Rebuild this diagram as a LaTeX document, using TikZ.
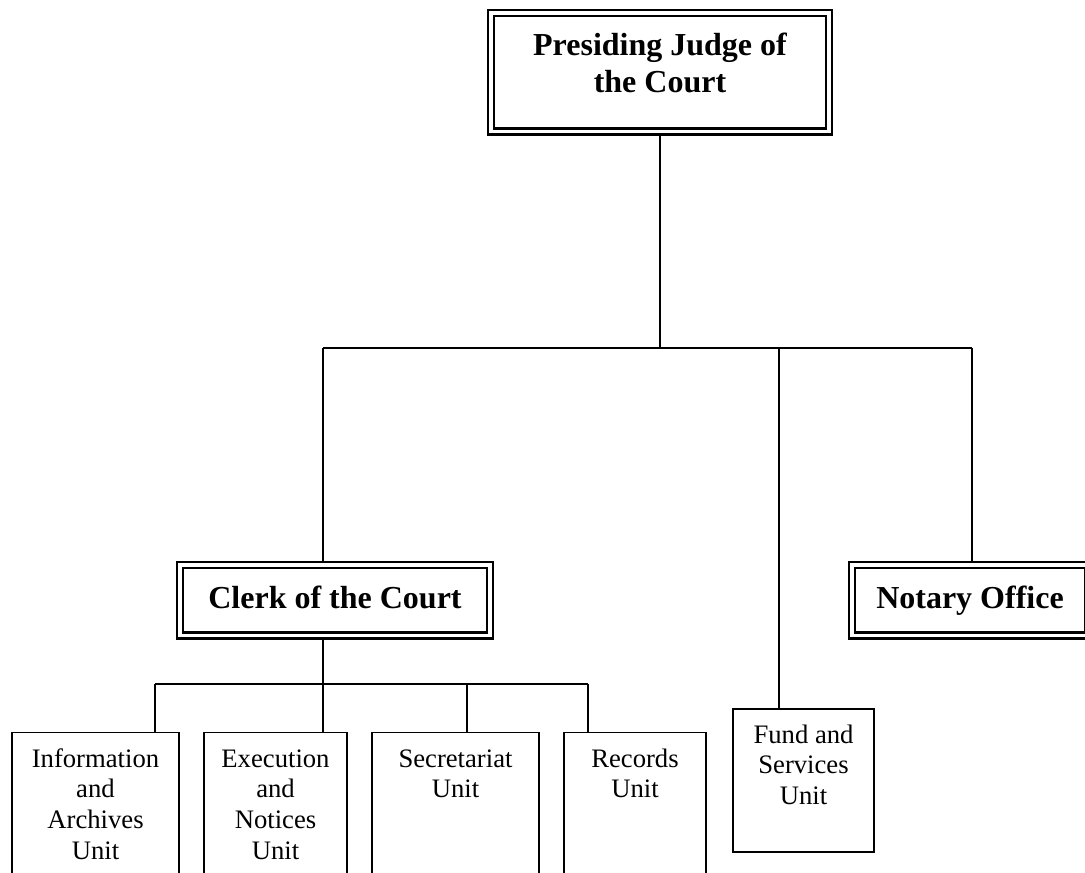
\documentclass[tikz,border=0pt]{standalone}
\usepackage{fontspec}
\setmainfont{Liberation Serif}
\newcommand\firstln[1]{\rule{0pt}{#1}}
\begin{document}
\begin{tikzpicture}[x=0.75pt,y=-0.75pt,
  dbox/.style={draw=black,double=white,line width=1.8pt,double distance=2.5pt,
    rectangle,inner sep=0pt,outer sep=3pt},
  sbox/.style={draw=black,line width=1.2pt,rectangle,inner sep=0pt},
  boldtxt/.style={font=\bfseries\fontsize{24}{27.75}\selectfont,align=center,inner sep=0pt},
  unittxt/.style={font=\fontsize{20}{23}\selectfont,align=center,inner sep=0pt,anchor=north},
  link/.style={draw=black,line width=1pt}]
\useasboundingbox (0,0) rectangle (1085,872);
\clip (0,0) rectangle (1085,872);
% main boxes
\node[dbox,minimum width=253.5pt,minimum height=88.875pt] (judge) at (660,72.25) {};
\node[dbox,minimum width=232.5pt,minimum height=52.875pt] (clerk) at (335,600.25) {};
\node[dbox,minimum width=177pt,minimum height=52.875pt] (notary) at (970,600.25) {};
% unit boxes
\node[sbox,minimum width=125.25pt,minimum height=125.6pt] (info) at (95.5,816.25) {};
\node[sbox,minimum width=107.25pt,minimum height=125.6pt] (exec) at (275.5,816.25) {};
\node[sbox,minimum width=125.25pt,minimum height=125.6pt] (secr) at (455.5,816.25) {};
\node[sbox,minimum width=106.5pt,minimum height=125.6pt] (rec) at (635,816.25) {};
\node[sbox,minimum width=105.75pt,minimum height=107.25pt] (fund) at (803.5,780.5) {};
% texts
\node[boldtxt,anchor=north] (tjudge) at (660,28.33) {\firstln{20pt}Presiding Judge of\\the Court};
\node[boldtxt,anchor=base] (tclerk) at (335,608) {Clerk of the Court};
\node[boldtxt,anchor=base] (tnotary) at (970,608) {Notary Office};
\node[unittxt] (tinfo) at (95.5,744.33) {\firstln{17pt}Information\\and\\Archives\\Unit};
\node[unittxt] (texec) at (275.5,744.33) {\firstln{17pt}Execution\\and\\Notices\\Unit};
\node[unittxt] (tsecr) at (455.5,744.33) {\firstln{17pt}Secretariat\\Unit};
\node[unittxt] (trec) at (635,744.33) {\firstln{17pt}Records\\Unit};
\node[unittxt] (tfund) at (803.5,720.33) {\firstln{17pt}Fund and\\Services\\Unit};
% connectors
\coordinate (hL) at (323,348);
\coordinate (hJ) at (660,348);
\coordinate (hF) at (779,348);
\coordinate (hR) at (972,348);
\draw[link] (judge.south) -- (hJ);
\draw[link] (hL) -- (hR);
\draw[link] (hL) -- (clerk.north -| hL);
\draw[link] (hF) -- (fund.north -| hF);
\draw[link] (hR) -- (notary.north -| hR);
\coordinate (sA) at (155,684);
\coordinate (sB) at (323,684);
\coordinate (sC) at (467,684);
\coordinate (sD) at (588,684);
\draw[link] (clerk.south -| sB) -- (exec.north -| sB);
\draw[link] (sA) -- (sD);
\draw[link] (sA) -- (info.north -| sA);
\draw[link] (sC) -- (secr.north -| sC);
\draw[link] (sD) -- (rec.north -| sD);
\end{tikzpicture}
\end{document}
